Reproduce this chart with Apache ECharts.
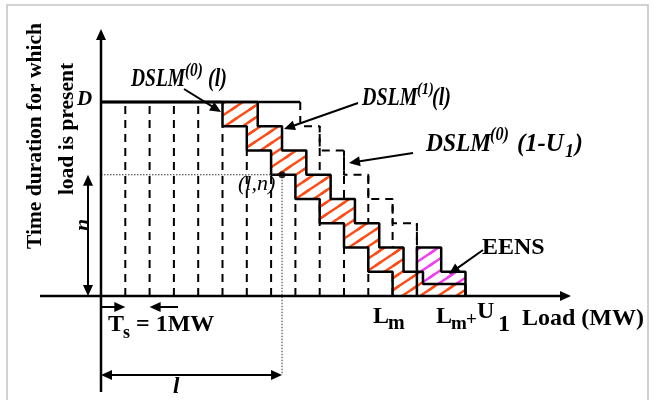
<!DOCTYPE html>
<html><head><meta charset="utf-8">
<script src="https://cdn.jsdelivr.net/npm/echarts/dist/echarts.min.js"></script>
<style>html,body{margin:0;padding:0;background:#fff}#c{width:653px;height:400px}</style>
</head><body><div id="c"></div>
<script>
// ---- Data: x in load steps (Ts = 1 MW), y in eighths of D ----
const D = 8;
const dslm0Edges = [0, 5, 6, 7, 8, 9, 10, 11, 12];          // DSLM(0)(l) step edges
const dslm0Levels = [8, 7, 6, 5, 4, 3, 2, 1];
const dslm1Edges = [0, 6.45, 7.45, 8.45, 9.45, 10.45, 11.45, 12.45, 13.25, 15]; // DSLM(1)(l)
const dslm1Levels = [8, 7, 6, 5, 4, 3, 2, 1, 0.5];
const shiftEdges = [0, 8.2, 9, 10, 11, 12, 13, 14, 15];     // DSLM(0)(l-U1)
const shiftLevels = [8, 7, 6, 5, 4, 3, 2, 1];
const gridX = [1, 2, 3, 4, 5, 6, 7, 8, 9, 10, 11, 12, 13];
const gridTop = [8, 8, 8, 8, 7, 6, 5, 4, 7, 6, 5, 4, 3];
const pointLN = [7.45, 5];
const eensStart = 13, eensEnd = 15, hatchStart = 5;

// ---- layout helpers (pixel <-> unit) ----
const X0 = 101, SX = 24.3, Y0 = 296, SY = 24.25, W = 653, H = 400;
const ux = px => (px - X0) / SX;
const uy = py => (Y0 - py) / SY;

function stair(edges, levels) {
  const pts = [[edges[0], levels[0]]];
  for (let i = 0; i < levels.length; i++) {
    pts.push([edges[i + 1], levels[i]]);
    pts.push([edges[i + 1], i + 1 < levels.length ? levels[i + 1] : 0]);
  }
  return pts;
}
function stairVal(edges, levels, x) {
  for (let i = 0; i < levels.length; i++) if (x >= edges[i] && x < edges[i + 1]) return levels[i];
  return 0;
}
function between(upE, upL, loE, loL, a, b) {
  const xs = [...new Set([a, b, ...upE, ...loE].filter(x => x >= a && x <= b))].sort((p, q) => p - q);
  const top = [], bot = [];
  for (let i = 0; i < xs.length - 1; i++) {
    const m = (xs[i] + xs[i + 1]) / 2;
    const u = stairVal(upE, upL, m), l = stairVal(loE, loL, m);
    top.push([xs[i], u], [xs[i + 1], u]);
    bot.push([xs[i], l], [xs[i + 1], l]);
  }
  return top.concat(bot.reverse());
}

const s0 = stair(dslm0Edges, dslm0Levels);
const s1 = stair(dslm1Edges, dslm1Levels);
const sh = stair(shiftEdges, shiftLevels);
const iDash = sh.findIndex(p => p[0] === shiftEdges[1]);
const iTail = sh.findIndex(p => p[0] === eensStart && p[1] === stairVal(shiftEdges, shiftLevels, eensStart));
const shHead = sh.slice(0, iDash + 1);
const shDash = sh.slice(iDash, iTail + 1);
const shTail = [[eensStart, 0]].concat(sh.slice(iTail));

const orangePoly = between(dslm1Edges, dslm1Levels, dslm0Edges, dslm0Levels, hatchStart, eensEnd);
const pinkPoly = between(shiftEdges, shiftLevels, dslm1Edges, dslm1Levels, eensStart, eensEnd);

function makeHatch(color) {
  const w = 18, h = 12;
  const c = document.createElement('canvas'); c.width = w; c.height = h;
  const g = c.getContext('2d');
  g.fillStyle = '#fff'; g.fillRect(0, 0, w, h);
  g.strokeStyle = color; g.lineWidth = 2.3;
  for (const dx of [-w, 0, w]) for (const dy of [-h, 0, h]) {
    g.beginPath(); g.moveTo(dx - 3, dy + h + 2); g.lineTo(dx + w + 3, dy - 2); g.stroke();
  }
  return { image: c, repeat: 'repeat' };
}
const hatches = [{ pts: orangePoly, fill: makeHatch('#ff4a14') }, { pts: pinkPoly, fill: makeHatch('#f23cf0') }];

const arrows = [
  { a: [0, uy(392)], b: [0, uy(29)], h: [0, 1], w: 2.5 },
  { a: [ux(40), 0], b: [ux(571), 0], h: [0, 1], w: 2.5 },
  { a: [ux(88), pointLN[1]], b: [ux(88), 0], h: [1, 1], w: 2 },
  { a: [0, uy(375)], b: [pointLN[0], uy(375)], h: [1, 1], w: 2 },
  { a: [0, uy(307)], b: [1, uy(307)], h: [0, 1], w: 2 },
  { a: [ux(178), uy(307)], b: [2, uy(307)], h: [0, 1], w: 2 },
  { a: [ux(184), uy(89)], b: [ux(221), uy(112)], h: [0, 1], w: 2 },
  { a: [ux(358), uy(103)], b: [ux(284), uy(129)], h: [0, 1], w: 2 },
  { a: [ux(413), uy(153)], b: [ux(349), uy(163)], h: [0, 1], w: 2 },
  { a: [ux(483), uy(250)], b: [ux(449), uy(274)], h: [0, 1], w: 2 }
];

function head(tip, dir, L, hw) {
  const nx = -dir[1], ny = dir[0];
  return [tip, [tip[0] - L * dir[0] + hw * nx, tip[1] - L * dir[1] + hw * ny],
          [tip[0] - L * dir[0] - hw * nx, tip[1] - L * dir[1] - hw * ny]];
}
function arrowItem(params, api) {
  const A = arrows[params.dataIndex];
  const p1 = api.coord(A.a), p2 = api.coord(A.b);
  const len = Math.hypot(p2[0] - p1[0], p2[1] - p1[1]);
  const d = [(p2[0] - p1[0]) / len, (p2[1] - p1[1]) / len];
  const L = 11, hw = 5;
  const s = A.h[0] ? [p1[0] + d[0] * L * 0.7, p1[1] + d[1] * L * 0.7] : p1;
  const e = A.h[1] ? [p2[0] - d[0] * L * 0.7, p2[1] - d[1] * L * 0.7] : p2;
  const ch = [{ type: 'line', shape: { x1: s[0], y1: s[1], x2: e[0], y2: e[1] }, style: { stroke: '#000', lineWidth: A.w } }];
  if (A.h[1]) ch.push({ type: 'polygon', shape: { points: head(p2, d, L, hw) }, style: { fill: '#000' } });
  if (A.h[0]) ch.push({ type: 'polygon', shape: { points: head(p1, [-d[0], -d[1]], L, hw) }, style: { fill: '#000' } });
  return { type: 'group', children: ch };
}

// ---- text helpers ----
const FF = '"Liberation Serif", "Times New Roman", serif';
function tx(str, x, base, size, o = {}) {
  return {
    type: 'text', x: x, y: base - 0.34 * size, scaleX: o.sx || 1, z: 10,
    style: {
      text: str, fill: '#000', textAlign: 'left', textVerticalAlign: 'middle',
      font: (o.italic ? 'italic ' : '') + (o.bold === false ? '' : 'bold ') + size + 'px ' + FF
    }
  };
}
function rot(str, cx, cy, size, o = {}) {
  return {
    type: 'text', x: cx, y: cy, rotation: Math.PI / 2, z: 10,
    style: {
      text: str, fill: '#000', textAlign: 'center', textVerticalAlign: 'middle',
      font: (o.italic ? 'italic ' : '') + 'bold ' + size + 'px ' + FF
    }
  };
}
const BI = { italic: true };
const texts = [
  rot('Time duration for which', 35, 136, 21.5),
  rot('load is present', 67, 129, 21.5),
  rot('n', 83, 225, 22, BI),
  tx('D', 77, 107, 21, BI),
  tx('DSLM', 131, 88, 25, { italic: true, sx: 0.78 }),
  tx('(0)', 185, 77, 18, { italic: true, sx: 0.85 }),
  tx('(l)', 208, 88, 25, { italic: true, sx: 0.8 }),
  tx('DSLM', 362, 107, 25, { italic: true, sx: 0.8 }),
  tx('(1)', 417, 95, 17, { italic: true, sx: 0.85 }),
  tx('(l)', 432, 107, 25, { italic: true, sx: 0.8 }),
  tx('DSLM', 426, 153, 26, { italic: true, sx: 0.9 }),
  tx('(0)', 490, 141, 18, { italic: true, sx: 0.9 }),
  tx('(1-U', 517, 153, 26, { italic: true, sx: 0.95 }),
  tx('1', 565, 158, 18, BI),
  tx(')', 575, 153, 26, { italic: true, sx: 0.9 }),
  tx('(l,n)', 238, 192, 22, { italic: true, bold: false }),
  tx('EENS', 482, 256, 24),
  tx('T', 108, 333, 24),
  tx('s', 123, 339, 18),
  tx('= 1MW', 136, 333, 24),
  tx('L', 373, 325, 24),
  tx('m', 388, 331, 20),
  tx('L', 436, 325, 24),
  tx('m', 451, 331, 19),
  tx('+', 466, 327, 19),
  tx('U', 477, 320, 24),
  tx('1', 498, 333, 24),
  tx('Load (MW)', 522, 327, 24),
  tx('l', 173, 395, 23, BI)
];

const chart = echarts.init(document.getElementById('c'), null, { renderer: 'canvas' });
const solid = { color: '#000', width: 2.5 };
chart.setOption({
  animation: false,
  backgroundColor: '#fff',
  grid: { left: 0, right: 0, top: 0, bottom: 0 },
  xAxis: { type: 'value', min: ux(0), max: ux(W), show: false },
  yAxis: { type: 'value', min: uy(H), max: uy(0), show: false },
  graphic: [{ type: 'rect', shape: { x: 7, y: 5, width: 641, height: 400 }, style: { fill: 'none', stroke: '#c4c4c4', lineWidth: 1.5 }, z: 0 }].concat(texts),
  series: [
    { type: 'custom', z: 1, clip: false, silent: true, data: gridX.map((x, i) => [x, gridTop[i]]),
      renderItem: (p, api) => {
        const a = api.coord([api.value(0), 0]), b = api.coord([api.value(0), api.value(1)]);
        return { type: 'line', shape: { x1: a[0], y1: a[1], x2: b[0], y2: b[1] }, style: { stroke: '#000', lineWidth: 2, lineDash: [8, 6] } };
      } },
    { type: 'custom', z: 2, clip: false, silent: true, data: hatches.map((h, i) => [i]),
      renderItem: (p, api) => ({ type: 'polygon', shape: { points: hatches[p.dataIndex].pts.map(q => api.coord(q)) }, style: { fill: hatches[p.dataIndex].fill, stroke: null } }) },
    { type: 'line', z: 3, data: shDash, symbol: 'none', silent: true, lineStyle: { color: '#000', width: 2, type: [8, 6] } },
    { type: 'line', z: 4, data: shHead, symbol: 'none', silent: true, lineStyle: solid },
    { type: 'line', z: 4, data: shTail, symbol: 'none', silent: true, lineStyle: solid },
    { type: 'line', z: 4, data: s0, symbol: 'none', silent: true, lineStyle: solid },
    { type: 'line', z: 4, data: s1, symbol: 'none', silent: true, lineStyle: solid },
    { type: 'line', z: 4, data: [[0, pointLN[1]], pointLN, [pointLN[0], uy(375)]], symbol: 'none', silent: true, lineStyle: { color: '#333', width: 1, type: [1.5, 1.5] } },
    { type: 'custom', z: 5, clip: false, silent: true, data: arrows.map((a, i) => [i]), renderItem: arrowItem },
    { type: 'scatter', z: 6, data: [pointLN], symbolSize: 7, itemStyle: { color: '#000' }, silent: true }
  ]
});
</script></body></html>
